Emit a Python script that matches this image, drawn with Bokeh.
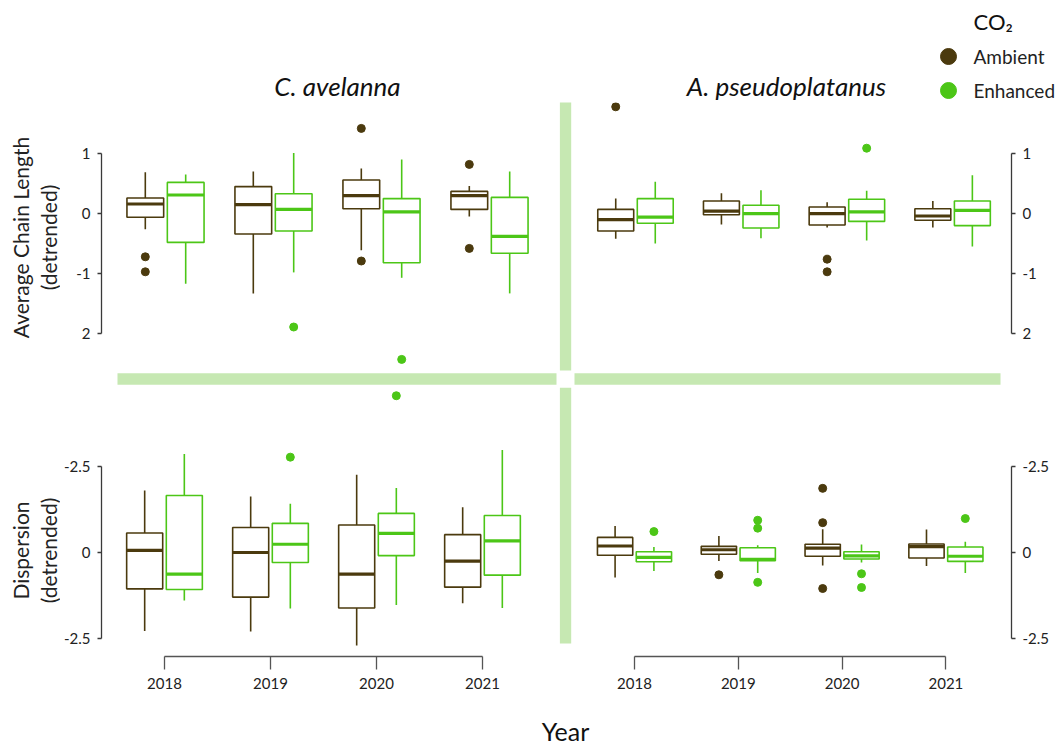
import math
from bokeh.plotting import figure
from bokeh.models import Range1d, LinearAxis, FixedTicker, ColumnDataSource
from bokeh.layouts import column, row
from bokeh.embed import file_html
from bokeh.resources import INLINE
from bokeh.core.properties import value

# ------------------------------------------------------------------ data
years = [2018, 2019, 2020, 2021]
year_labels = ["2018", "2019", "2020", "2021"]
groups = ["Ambient", "Enhanced"]
species = ["C. avelanna", "A. pseudoplatanus"]
measures = ["Average Chain Length\n(detrended)", "Dispersion\n(detrended)"]

# C. avelanna - Average Chain Length (detrended)
cav_acl_amb_low = [-0.27, -1.34, -0.62, -0.06]
cav_acl_amb_q1 = [-0.07, -0.35, 0.07, 0.06]
cav_acl_amb_med = [0.15, 0.14, 0.29, 0.29]
cav_acl_amb_q3 = [0.25, 0.44, 0.55, 0.36]
cav_acl_amb_high = [0.68, 0.69, 0.74, 0.45]
cav_acl_amb_out_year = [2018, 2018, 2020, 2020, 2021, 2021]
cav_acl_amb_out_val = [-0.73, -0.98, 1.41, -0.80, 0.81, -0.59]

cav_acl_enh_low = [-1.18, -0.99, -1.08, -1.34]
cav_acl_enh_q1 = [-0.49, -0.30, -0.83, -0.67]
cav_acl_enh_med = [0.30, 0.06, 0.02, -0.39]
cav_acl_enh_q3 = [0.51, 0.32, 0.24, 0.26]
cav_acl_enh_high = [0.64, 1.00, 0.89, 0.69]
cav_acl_enh_out_year = [2019, 2020]
cav_acl_enh_out_val = [-1.90, -2.44]

# A. pseudoplatanus - Average Chain Length (detrended)
aps_acl_amb_low = [-0.43, -0.19, -0.24, -0.24]
aps_acl_amb_q1 = [-0.30, -0.03, -0.20, -0.12]
aps_acl_amb_med = [-0.11, 0.03, -0.01, -0.05]
aps_acl_amb_q3 = [0.06, 0.20, 0.10, 0.07]
aps_acl_amb_high = [0.24, 0.33, 0.18, 0.20]
aps_acl_amb_out_year = [2018, 2020, 2020]
aps_acl_amb_out_val = [1.77, -0.77, -0.98]

aps_acl_enh_low = [-0.51, -0.42, -0.46, -0.56]
aps_acl_enh_q1 = [-0.17, -0.25, -0.14, -0.21]
aps_acl_enh_med = [-0.07, -0.01, 0.02, 0.045]
aps_acl_enh_q3 = [0.24, 0.13, 0.23, 0.20]
aps_acl_enh_high = [0.52, 0.38, 0.37, 0.63]
aps_acl_enh_out_year = [2020]
aps_acl_enh_out_val = [1.08]

# C. avelanna - Dispersion (detrended)
cav_dis_amb_low = [-2.29, -2.30, -2.71, -1.48]
cav_dis_amb_q1 = [-1.06, -1.30, -1.62, -1.01]
cav_dis_amb_med = [0.06, 0.00, -0.63, -0.25]
cav_dis_amb_q3 = [0.57, 0.73, 0.80, 0.52]
cav_dis_amb_high = [1.81, 1.63, 2.27, 1.32]
cav_dis_amb_out_year = []
cav_dis_amb_out_val = []

cav_dis_enh_low = [-1.40, -1.63, -1.53, -1.62]
cav_dis_enh_q1 = [-1.08, -0.29, -0.09, -0.66]
cav_dis_enh_med = [-0.63, 0.24, 0.56, 0.34]
cav_dis_enh_q3 = [1.66, 0.85, 1.14, 1.08]
cav_dis_enh_high = [2.87, 1.42, 1.88, 2.99]
cav_dis_enh_out_year = [2019, 2020]
cav_dis_enh_out_val = [2.78, 4.57]

# A. pseudoplatanus - Dispersion (detrended)
aps_dis_amb_low = [-0.73, -0.25, -0.38, -0.39]
aps_dis_amb_q1 = [-0.08, -0.05, -0.11, -0.16]
aps_dis_amb_med = [0.19, 0.08, 0.13, 0.17]
aps_dis_amb_q3 = [0.44, 0.18, 0.24, 0.25]
aps_dis_amb_high = [0.77, 0.48, 0.68, 0.67]
aps_dis_amb_out_year = [2019, 2020, 2020, 2020]
aps_dis_amb_out_val = [-0.65, 1.87, 0.87, -1.05]

aps_dis_enh_low = [-0.54, -0.60, -0.29, -0.60]
aps_dis_enh_q1 = [-0.27, -0.24, -0.19, -0.26]
aps_dis_enh_med = [-0.14, -0.20, -0.10, -0.11]
aps_dis_enh_q3 = [0.02, 0.14, 0.02, 0.16]
aps_dis_enh_high = [0.16, 0.21, 0.23, 0.31]
aps_dis_enh_out_year = [2018, 2019, 2019, 2019, 2020, 2020, 2021]
aps_dis_enh_out_val = [0.61, 0.94, 0.71, -0.87, -0.62, -1.02, 0.99]

acl_ticks = [1, 0, -1, -2]
acl_tick_labels = ["1", "0", "-1", "2"]
dis_ticks = [2.5, 0, -2.5]
dis_tick_labels = ["-2.5", "0", "-2.5"]

# ------------------------------------------------------------------ style / layout
AMB = "#4b3a0e"
ENH = "#4cc617"
SEP = "#c6e8b2"
AXC = "#3a3a3a"
FONT = "Lato"
OFF = 0.187
BOX_W = 0.34

W, H = 1061, 744
SIDE_W = 60          # column holding the y-axis titles
SPLIT_X = 559        # left / right panel boundary
AXIS_X_L = 101       # left y-axis line
AXIS_X_R = 1011      # right y-axis line
HEAD_H = 102         # header (species names, CO2 key)
SPLIT_Y = 372        # top / bottom panel boundary
XAXIS_Y = 656        # bottom x-axis line
FOOT_Y = 700         # footer ("Year")


def bare(p):
    p.xgrid.visible = False
    p.ygrid.visible = False
    p.outline_line_color = None
    p.background_fill_color = "white"
    p.border_fill_color = "white"
    return p


def make_panel(fl, fr, ft, fb, cl, cr, c0, step, zero, unit):
    """fl..fr / ft..fb: frame in page pixels, cl..cr canvas x extent."""
    bb = FOOT_Y - fb if fb == XAXIS_Y else 0
    p = figure(width=cr - cl, height=fb - ft + bb, output_backend="svg",
               toolbar_location=None,
               x_range=Range1d(2018 + (fl - c0) / step, 2018 + (fr - c0) / step),
               y_range=Range1d((zero - fb) / unit, (zero - ft) / unit),
               x_axis_location=None, y_axis_location=None,
               min_border_left=fl - cl, min_border_right=cr - fr,
               min_border_top=0, min_border_bottom=bb)
    bare(p)

    def X(px):
        return 2018 + (px - c0) / step

    def Y(py):
        return (zero - py) / unit
    return p, X, Y


def sep(p, X, Y, x0, x1, y0, y1):
    p.quad(left=[X(x0)], right=[X(x1)], top=[Y(y0)], bottom=[Y(y1)],
           fill_color=SEP, line_color=None)


def draw_group(p, lo, q1, med, q3, hi, oyr, oval, offset, color):
    xs = [yr + offset for yr in years]
    src = ColumnDataSource(dict(x=xs,
                                left=[v - BOX_W / 2 for v in xs],
                                right=[v + BOX_W / 2 for v in xs],
                                lo=lo, q1=q1, med=med, q3=q3, hi=hi))
    p.segment(x0="x", y0="lo", x1="x", y1="q1", source=src,
              line_color=color, line_width=1.6)
    p.segment(x0="x", y0="q3", x1="x", y1="hi", source=src,
              line_color=color, line_width=1.6)
    p.quad(left="left", right="right", bottom="q1", top="q3", source=src,
           fill_color="white", line_color=color, line_width=1.6)
    p.segment(x0="left", y0="med", x1="right", y1="med", source=src,
              line_color=color, line_width=3.2)
    osrc = ColumnDataSource(dict(x=[yr + offset for yr in oyr], y=oval))
    return p.scatter(x="x", y="y", source=osrc, size=8, color=color)


def y_axis(p, ticks, labels, side):
    ax = LinearAxis(ticker=FixedTicker(ticks=ticks),
                    major_label_overrides={t: l for t, l in zip(ticks, labels)},
                    bounds=(min(ticks), max(ticks)))
    ax.axis_line_color = AXC
    ax.axis_line_width = 1.3
    ax.major_tick_line_color = AXC
    ax.major_tick_line_width = 1.3
    ax.major_tick_out = 4
    ax.major_tick_in = 0
    ax.minor_tick_line_color = None
    ax.major_label_text_font = FONT
    ax.major_label_text_font_size = "15px"
    ax.major_label_text_color = "#222222"
    ax.major_label_standoff = 7
    p.add_layout(ax, side)


def x_axis(p):
    ax = LinearAxis(ticker=FixedTicker(ticks=years),
                    major_label_overrides={y: l for y, l in zip(years, year_labels)},
                    bounds=(years[0], years[-1]))
    ax.axis_line_color = "#555555"
    ax.axis_line_width = 1.3
    ax.major_tick_line_color = "#555555"
    ax.major_tick_line_width = 1.3
    ax.major_tick_out = 13
    ax.major_tick_in = 0
    ax.minor_tick_line_color = None
    ax.major_label_text_font = FONT
    ax.major_label_text_font_size = "15px"
    ax.major_label_text_color = "#222222"
    ax.major_label_standoff = 8
    p.add_layout(ax, "below")


# ------------------------------------------------------------------ header
head = bare(figure(width=W, height=HEAD_H, output_backend="svg", toolbar_location=None,
                   x_range=Range1d(0, W), y_range=Range1d(HEAD_H, 0),
                   x_axis_location=None, y_axis_location=None,
                   min_border_left=0, min_border_right=0,
                   min_border_top=0, min_border_bottom=0))
head.text(x=[337, 786], y=[85, 85], text=species, text_font=value(FONT),
          text_font_style="italic", text_font_size="26px",
          text_align="center", text_baseline="middle", text_color="#111111")
head.scatter(x=[948, 948], y=[56, 90], size=16, color=[AMB, ENH])
head.text(x=[973, 973], y=[56, 90], text=groups, text_font=value(FONT),
          text_font_size="19px", text_align="left", text_baseline="middle",
          text_color="#222222")
head.text(x=[973], y=[21], text=["CO₂"], text_font=value(FONT),
          text_font_size="22px", text_align="left", text_baseline="middle",
          text_color="#111111")

# ------------------------------------------------------------------ side (y titles)
side = bare(figure(width=SIDE_W, height=FOOT_Y - HEAD_H, output_backend="svg",
                   toolbar_location=None,
                   x_range=Range1d(0, SIDE_W), y_range=Range1d(FOOT_Y, HEAD_H),
                   x_axis_location=None, y_axis_location=None,
                   min_border_left=0, min_border_right=0,
                   min_border_top=0, min_border_bottom=0))
side.text(x=[34, 34], y=[237, 550], text=measures, angle=math.pi / 2,
          text_font=value(FONT), text_font_size="21px", text_line_height=1.1,
          text_align="center", text_baseline="middle", text_color="#222222")

# ------------------------------------------------------------------ top-left
tl, X, Y = make_panel(AXIS_X_L, SPLIT_X, HEAD_H, SPLIT_Y, SIDE_W, SPLIT_X, 165, 108, 212.5, 60)
draw_group(tl, cav_acl_amb_low, cav_acl_amb_q1, cav_acl_amb_med, cav_acl_amb_q3,
           cav_acl_amb_high, cav_acl_amb_out_year, cav_acl_amb_out_val, -OFF, AMB)
draw_group(tl, cav_acl_enh_low, cav_acl_enh_q1, cav_acl_enh_med, cav_acl_enh_q3,
           cav_acl_enh_high, cav_acl_enh_out_year, cav_acl_enh_out_val, OFF, ENH)
y_axis(tl, acl_ticks, acl_tick_labels, "left")

# ------------------------------------------------------------------ top-right
tr, X, Y = make_panel(SPLIT_X, AXIS_X_R, HEAD_H, SPLIT_Y, SPLIT_X, W, 635, 105.7, 212.5, 60)
sep(tr, X, Y, 559.3, 570.7, 100, 370)
draw_group(tr, aps_acl_amb_low, aps_acl_amb_q1, aps_acl_amb_med, aps_acl_amb_q3,
           aps_acl_amb_high, aps_acl_amb_out_year, aps_acl_amb_out_val, -OFF, AMB)
draw_group(tr, aps_acl_enh_low, aps_acl_enh_q1, aps_acl_enh_med, aps_acl_enh_q3,
           aps_acl_enh_high, aps_acl_enh_out_year, aps_acl_enh_out_val, OFF, ENH)
y_axis(tr, acl_ticks, acl_tick_labels, "right")

# ------------------------------------------------------------------ bottom-left
bl, X, Y = make_panel(AXIS_X_L, SPLIT_X, SPLIT_Y, XAXIS_Y, SIDE_W, SPLIT_X, 164, 106, 552, 34.3)
sep(bl, X, Y, 117, 556, 372.7, 384.3)
draw_group(bl, cav_dis_amb_low, cav_dis_amb_q1, cav_dis_amb_med, cav_dis_amb_q3,
           cav_dis_amb_high, cav_dis_amb_out_year, cav_dis_amb_out_val, -OFF, AMB)
draw_group(bl, cav_dis_enh_low, cav_dis_enh_q1, cav_dis_enh_med, cav_dis_enh_q3,
           cav_dis_enh_high, cav_dis_enh_out_year, cav_dis_enh_out_val, OFF, ENH)
y_axis(bl, dis_ticks, dis_tick_labels, "left")
x_axis(bl)

# ------------------------------------------------------------------ bottom-right
br, X, Y = make_panel(SPLIT_X, AXIS_X_R, SPLIT_Y, XAXIS_Y, SPLIT_X, W, 634, 103.8, 552, 34.3)
sep(br, X, Y, 559.3, 570.7, 387.3, 643)
sep(br, X, Y, 574, 1000, 372.7, 384.3)
draw_group(br, aps_dis_amb_low, aps_dis_amb_q1, aps_dis_amb_med, aps_dis_amb_q3,
           aps_dis_amb_high, aps_dis_amb_out_year, aps_dis_amb_out_val, -OFF, AMB)
draw_group(br, aps_dis_enh_low, aps_dis_enh_q1, aps_dis_enh_med, aps_dis_enh_q3,
           aps_dis_enh_high, aps_dis_enh_out_year, aps_dis_enh_out_val, OFF, ENH)
y_axis(br, dis_ticks, dis_tick_labels, "right")
x_axis(br)

# ------------------------------------------------------------------ footer
foot = bare(figure(width=W, height=H - FOOT_Y, output_backend="svg", toolbar_location=None,
                   x_range=Range1d(0, W), y_range=Range1d(H, FOOT_Y),
                   x_axis_location=None, y_axis_location=None,
                   min_border_left=0, min_border_right=0,
                   min_border_top=0, min_border_bottom=0))
foot.text(x=[565], y=[730], text=["Year"], text_font=value(FONT),
          text_font_size="25px", text_align="center", text_baseline="middle",
          text_color="#111111")

layout = column(head,
                row(side, column(row(tl, tr), row(bl, br))),
                foot)
open("out.html", "w").write(file_html(layout, INLINE))
